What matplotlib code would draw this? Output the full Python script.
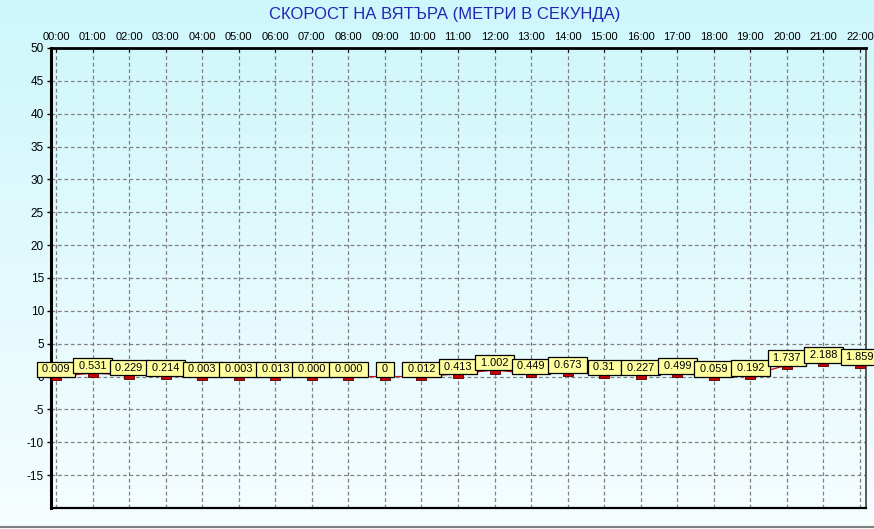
import numpy as np
import matplotlib.pyplot as plt
from matplotlib.colors import LinearSegmentedColormap

hours = ['00:00', '01:00', '02:00', '03:00', '04:00', '05:00', '06:00', '07:00',
         '08:00', '09:00', '10:00', '11:00', '12:00', '13:00', '14:00', '15:00',
         '16:00', '17:00', '18:00', '19:00', '20:00', '21:00', '22:00']
speed = [0.009, 0.531, 0.229, 0.214, 0.003, 0.003, 0.013, 0.000, 0.000, 0,
         0.012, 0.413, 1.002, 0.449, 0.673, 0.31, 0.227, 0.499, 0.059, 0.192,
         1.737, 2.188, 1.859]
labels = ['0.009', '0.531', '0.229', '0.214', '0.003', '0.003', '0.013', '0.000',
          '0.000', '0', '0.012', '0.413', '1.002', '0.449', '0.673', '0.31',
          '0.227', '0.499', '0.059', '0.192', '1.737', '2.188', '1.859']
title = 'СКОРОСТ НА ВЯТЪРА (МЕТРИ В СЕКУНДА)'

plt.rcParams['font.family'] = ['Liberation Sans', 'DejaVu Sans']
plt.rcParams['axes.unicode_minus'] = False

W, H = 874, 529
fig = plt.figure(figsize=(W / 100, H / 100), dpi=100)

# background gradient over whole figure
bg = fig.add_axes([0, 0, 1, 1], zorder=-10)
cmap = LinearSegmentedColormap.from_list('bg', ['#cef7fb', '#f6fdff'])
grad = np.linspace(0, 1, 256).reshape(-1, 1)
bg.imshow(grad, aspect='auto', cmap=cmap, extent=[0, 1, 0, 1])
bg.plot([0, 1], [2.5 / H, 2.5 / H], color='#808080', lw=1.5)
bg.set_xlim(0, 1)
bg.set_ylim(0, 1)
bg.axis('off')

left, right, top, bottom = 51, 866, 48, 508
ax = fig.add_axes([left / W, 1 - bottom / H, (right - left) / W, (bottom - top) / H])
ax.set_facecolor('none')

x = np.arange(len(hours))
ax.plot(x, speed, color='#cc1010', lw=0.9, zorder=3)
rect = [(-1, -0.5), (1, -0.5), (1, 0.5), (-1, 0.5), (-1, -0.5)]
ax.plot(x, np.array(speed) - 0.28, linestyle='none', marker=rect, markersize=6.6,
        markerfacecolor='#cc0000', markeredgecolor='#500000', markeredgewidth=0.6,
        zorder=4)

for xi, yi, lab in zip(x, speed, labels):
    ax.annotate(' ' + lab + ' ', (xi, yi), xytext=(0, 1.6), textcoords='offset points',
                ha='center', va='bottom', fontsize=7.9, color='black', zorder=5,
                bbox=dict(boxstyle='square,pad=0.24', facecolor='#ffffa0',
                          edgecolor='black', linewidth=0.9))

ax.set_xlim(-5 / 36.55, 22 + 6 / 36.55)
ax.set_ylim(-20, 50)

ax.set_xticks(x)
ax.set_xticklabels(hours)
ax.xaxis.tick_top()
ax.tick_params(axis='x', which='major', length=3, pad=4, labelsize=8, direction='in')
ax.set_yticks(np.arange(-15, 51, 5))
ax.tick_params(axis='y', which='major', length=3, pad=2, labelsize=8.5, width=1)

ax.grid(True, color='#808080', linestyle=(0, (3, 2.2)), linewidth=0.9)
ax.set_axisbelow(True)

ax.spines['left'].set_linewidth(2.2)
ax.spines['top'].set_linewidth(2.0)
ax.spines['bottom'].set_linewidth(1.6)
ax.spines['right'].set_linewidth(1.2)
ax.spines['right'].set_color('#404040')

fig.text(0.509, 1 - 14 / H, title, ha='center', va='center', fontsize=12,
         color='#2424b4')

fig.savefig('out.png', dpi=100)
